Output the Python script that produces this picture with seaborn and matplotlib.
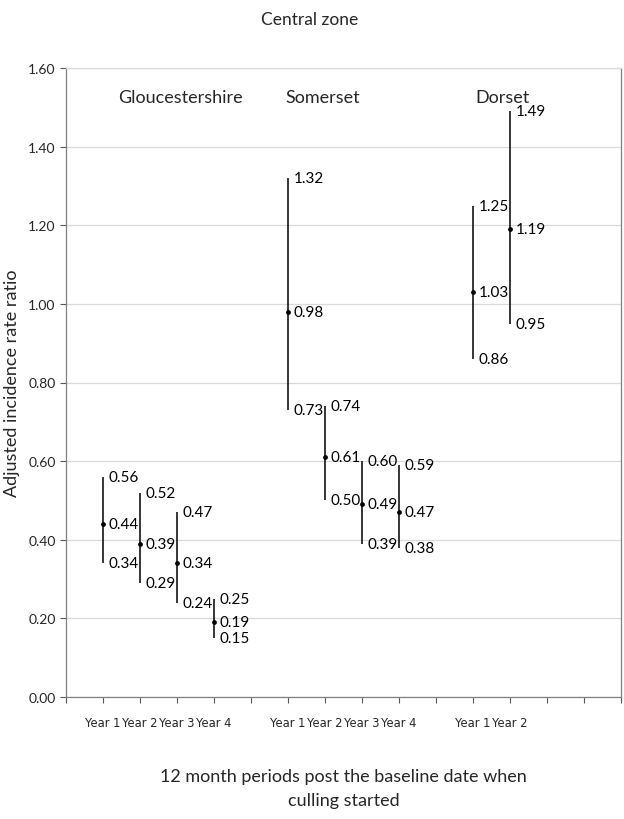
import matplotlib
matplotlib.use("Agg")
import matplotlib.pyplot as plt
import seaborn as sns
import pandas as pd
import numpy as np

# Data
groups = ["Gloucestershire", "Somerset", "Dorset"]
years_g = ["Year 1", "Year 2", "Year 3", "Year 4"]
years_s = ["Year 1", "Year 2", "Year 3", "Year 4"]
years_d = ["Year 1", "Year 2"]
est_g = [0.44, 0.39, 0.34, 0.19]
lo_g = [0.34, 0.29, 0.24, 0.15]
hi_g = [0.56, 0.52, 0.47, 0.25]
est_s = [0.98, 0.61, 0.49, 0.47]
lo_s = [0.73, 0.50, 0.39, 0.38]
hi_s = [1.32, 0.74, 0.60, 0.59]
est_d = [1.03, 1.19]
lo_d = [0.86, 0.95]
hi_d = [1.25, 1.49]
y_ticks = [0.0, 0.2, 0.4, 0.6, 0.8, 1.0, 1.2, 1.4, 1.6]

# Build table with slot positions (gap slot between groups)
rows = []
pos = 1
for g, yrs, e, l, h in [(groups[0], years_g, est_g, lo_g, hi_g),
                        (groups[1], years_s, est_s, lo_s, hi_s),
                        (groups[2], years_d, est_d, lo_d, hi_d)]:
    for yr, ev, lv, hv in zip(yrs, e, l, h):
        rows.append(dict(group=g, year=yr, x=pos, est=ev, lo=lv, hi=hv))
        pos += 1
    pos += 1
df = pd.DataFrame(rows)
xmax = pos + 1  # 14

sns.set_style("white")
plt.rcParams['font.family'] = ['Lato', 'DejaVu Sans']

fig = plt.figure(figsize=(6.24, 8.2), dpi=100)
ax = fig.add_axes([66/624, 1-698/820, (621-66)/624, (698-69)/820])

ax.vlines(df["x"], df["lo"], df["hi"], color="black", linewidth=1.1, zorder=3)
sns.scatterplot(data=df, x="x", y="est", ax=ax, color="black", s=12,
                edgecolor="black", linewidth=0, zorder=4, legend=False)

for _, r in df.iterrows():
    for v in (r["hi"], r["est"], r["lo"]):
        ax.text(r["x"] + 0.15, v, f"{v:.2f}", ha="left", va="center",
                fontsize=11, color="black")

ax.set_xlim(0, xmax)
ax.set_ylim(0, 1.6)
ax.set_yticks(y_ticks)
ax.set_yticklabels([f"{t:.2f}" for t in y_ticks], fontsize=10)
ax.set_xticks(np.arange(0, xmax + 1))
labels = [""] * (xmax + 1)
for _, r in df.iterrows():
    labels[int(r["x"])] = r["year"]
ax.set_xticklabels(labels, fontsize=8.3, family=["DejaVu Sans"])
ax.tick_params(axis="both", which="both", direction="out", length=4,
               color="#595959", width=0.8, bottom=True, left=True)
ax.tick_params(axis="x", pad=10)
ax.grid(axis="y", color="#d9d9d9", linewidth=0.9)
ax.set_axisbelow(True)
for side in ["left", "bottom", "right"]:
    ax.spines[side].set_color("#808080")
    ax.spines[side].set_linewidth(0.9)
ax.spines["top"].set_color("#d9d9d9")
ax.spines["top"].set_linewidth(0.9)

ax.set_xlabel("12 month periods post the baseline date when\nculling started",
              fontsize=13, labelpad=28, linespacing=1.6)
ax.set_ylabel("Adjusted incidence rate ratio", fontsize=13, labelpad=6)

# group labels
ax.text(3.1, 1.525, groups[0], ha="center", va="center", fontsize=13)
ax.text(6.95, 1.525, groups[1], ha="center", va="center", fontsize=13)
ax.text(11.8, 1.525, groups[2], ha="center", va="center", fontsize=13)

fig.text(310/624, 1-20/820, "Central zone", ha="center", va="center", fontsize=12.5)

fig.savefig("out.png", dpi=100)
